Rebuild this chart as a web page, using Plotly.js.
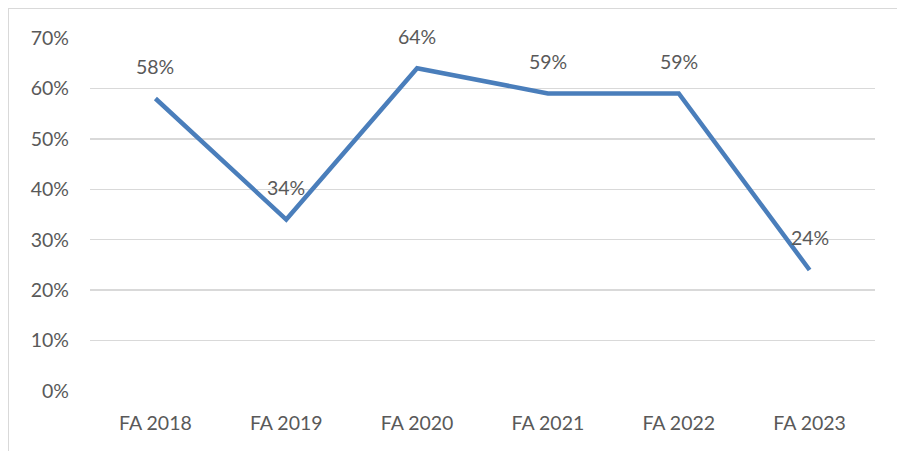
<!DOCTYPE html>
<html>
<head>
<meta charset="utf-8">
<script src="https://cdn.plot.ly/plotly-3.0.1.min.js"></script>
<style>
  body { margin: 8px; background: #fff; overflow: hidden; }
  #chart { width: 893px; height: 460px; border: 1px solid #d9d9d9; border-bottom: none; }
</style>
</head>
<body>
<div id="chart"></div>
<script>
const categories = ["FA 2018", "FA 2019", "FA 2020", "FA 2021", "FA 2022", "FA 2023"];
const values = [0.58, 0.34, 0.64, 0.59, 0.59, 0.24];
const yTickVals = [0, 0.1, 0.2, 0.3, 0.4, 0.5, 0.6, 0.7];
const yTickText = ["0%", "10%", "20%", "30%", "40%", "50%", "60%", "70%"];

const font = { family: "Lato, 'Open Sans', sans-serif", size: 19.5, color: "#595959" };

const trace = {
  x: categories,
  y: values,
  type: "scatter",
  mode: "lines",
  line: { color: "#4a7ebb", width: 4.5 },
  hoverinfo: "skip"
};

const annotations = categories.map((c, i) => ({
  x: c, y: values[i], xref: "x", yref: "y",
  text: Math.round(values[i] * 100) + "%",
  showarrow: false, yshift: 32, font: font
}));

const layout = {
  width: 893, height: 460,
  margin: { l: 81, r: 27, t: 29, b: 78 },
  paper_bgcolor: "#fff", plot_bgcolor: "#fff",
  showlegend: false,
  font: font,
  xaxis: {
    type: "category", range: [-0.5, 5.5],
    showgrid: false, zeroline: false, showline: false,
    ticks: "", ticklabelstandoff: 18, tickfont: font
  },
  yaxis: {
    range: [0, 0.7], tickvals: yTickVals, ticktext: yTickText,
    showgrid: true, gridcolor: "#d9d9d9", gridwidth: 1.3,
    zeroline: false, showline: false, ticks: "",
    ticklabelstandoff: 20, tickfont: font
  },
  annotations: annotations
};

Plotly.newPlot("chart", [trace], layout, { displayModeBar: false, staticPlot: true });
</script>
</body>
</html>
